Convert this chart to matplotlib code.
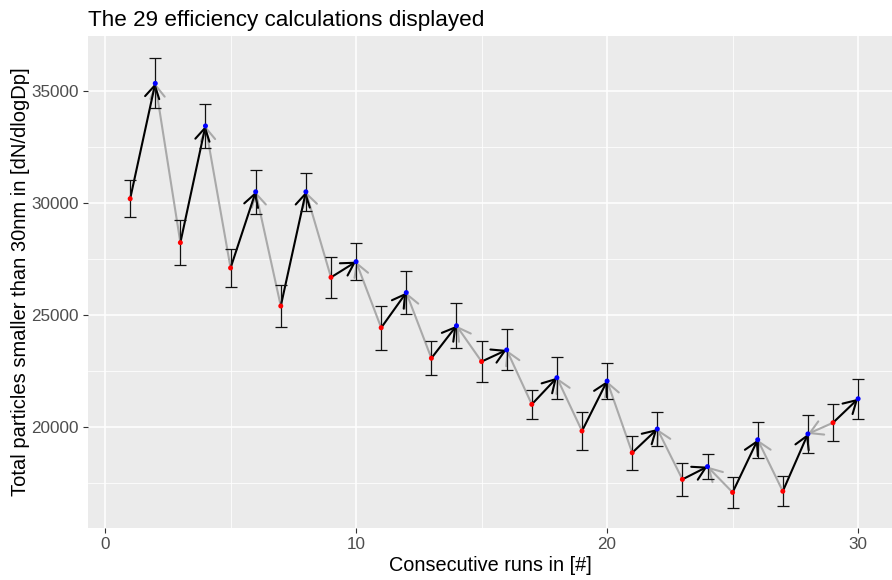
import matplotlib
matplotlib.use("Agg")
import matplotlib.pyplot as plt
from matplotlib.ticker import MultipleLocator

plt.rcParams['font.family'] = ['Liberation Sans', 'DejaVu Sans']

runs = list(range(1, 31))
values = [30190, 35340, 28230, 33440, 27100, 30500, 25400, 30500, 26680, 27380,
          24430, 26000, 23070, 24520, 22920, 23440, 21010, 22200, 19820, 22050,
          18850, 19910, 17660, 18230, 17080, 19430, 17130, 19690, 20190, 21260]
errors = [830, 1115, 990, 990, 860, 980, 930, 840, 915, 840,
          990, 950, 750, 1000, 915, 915, 660, 940, 850, 790,
          750, 740, 740, 565, 690, 800, 670, 840, 820, 890]
point_colors = ['red' if r % 2 == 1 else 'blue' for r in runs]

title = "The 29 efficiency calculations displayed"
xlabel = "Consecutive runs in [#]"
ylabel = "Total particles smaller than 30nm in [dN/dlogDp]"

fig = plt.figure(figsize=(8.92, 5.80), dpi=100)
ax = fig.add_axes([88/892, 1 - 528/580, (892 - 88)/892, (528 - 36)/580])
ax.set_facecolor('#EBEBEB')
for s in ax.spines.values():
    s.set_visible(False)

ax.set_xlim(-0.68, 31.35)
ax.set_ylim(15490, 37455)
ax.xaxis.set_major_locator(MultipleLocator(10))
ax.xaxis.set_minor_locator(MultipleLocator(5))
ax.yaxis.set_major_locator(MultipleLocator(5000))
ax.yaxis.set_minor_locator(MultipleLocator(2500))
ax.grid(which='major', color='white', linewidth=1.1, zorder=0)
ax.grid(which='minor', color='white', linewidth=0.55, zorder=0)
ax.set_axisbelow(True)
ax.tick_params(which='minor', length=0)
ax.tick_params(which='major', length=3.5, color='#333333', width=0.8,
               labelsize=12.3, labelcolor='#4D4D4D', pad=3)

# arrows: black from odd run to next even run, gray from next odd run back to even run
arrow_kw = dict(arrowstyle='->,head_length=0.45,head_width=0.26', shrinkA=0, shrinkB=0,
                mutation_scale=20)
for i in range(0, 30, 2):
    ax.annotate('', xy=(runs[i + 1], values[i + 1]), xytext=(runs[i], values[i]),
                arrowprops=dict(color='black', lw=1.5, **arrow_kw), zorder=3)
    if i + 2 < 30:
        ax.annotate('', xy=(runs[i + 1], values[i + 1]), xytext=(runs[i + 2], values[i + 2]),
                    arrowprops=dict(color='#A9A9A9', lw=1.5, **arrow_kw), zorder=2)

ax.errorbar(runs, values, yerr=errors, fmt='none', ecolor='#111111', elinewidth=0.9,
            capsize=4.6, capthick=0.9, zorder=4)
ax.scatter(runs, values, c=point_colors, s=13, zorder=5, linewidths=0)

ax.set_xlabel(xlabel, fontsize=14.3, labelpad=3)
ax.set_ylabel(ylabel, fontsize=14.5, labelpad=1)
fig.text(88/892, 1 - 26/580, title, fontsize=16.2, ha='left', va='baseline')

fig.savefig('out.png', dpi=100)
